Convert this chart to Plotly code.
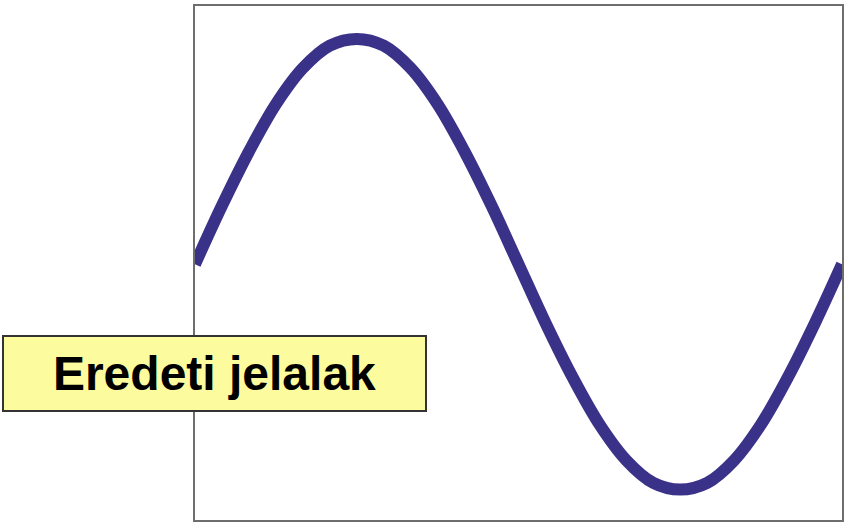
import plotly.graph_objects as go

# phase in degrees and signal level
phase = [0, 15, 30, 45, 60, 75, 90, 105, 120, 135, 150, 165, 180,
         195, 210, 225, 240, 255, 270, 285, 300, 315, 330, 345, 360]
level = [0.0, 0.26, 0.5, 0.71, 0.87, 0.97, 1.0, 0.97, 0.87, 0.71, 0.5, 0.26, 0.0,
         -0.26, -0.5, -0.71, -0.87, -0.97, -1.0, -0.97, -0.87, -0.71, -0.5, -0.26, 0.0]
label = "Eredeti jelalak"

fig = go.Figure()
fig.add_trace(go.Scatter(
    x=phase, y=level, mode="lines",
    line=dict(color="#3a3288", width=12, shape="spline"),
    hoverinfo="skip", showlegend=False,
))

axis_style = dict(
    showgrid=False, zeroline=False, showticklabels=False, ticks="",
    showline=True, linecolor="#6e6e6e", linewidth=2, mirror=True,
)
fig.update_xaxes(range=[0, 360], **axis_style)
fig.update_yaxes(range=[-1.135, 1.146], **axis_style)

fig.add_annotation(
    text="<b>" + label + "</b>",
    xref="paper", yref="paper", x=0.0301, y=0.285,
    xanchor="center", yanchor="middle",
    showarrow=False, width=421, height=73,
    bgcolor="#fcfb9d", bordercolor="#333333", borderwidth=2, borderpad=0,
    font=dict(family="Liberation Sans, Arial", size=48, color="black"),
)

fig.update_layout(
    width=846, height=523,
    margin=dict(l=195, r=4, t=6, b=3),
    paper_bgcolor="white", plot_bgcolor="white",
)

# drop the browser's default 8px body margin so the figure fills the window
fig.write_html(
    "out.html",
    config={"displayModeBar": False, "staticPlot": True},
    post_script="document.body.style.margin='0';",
)
